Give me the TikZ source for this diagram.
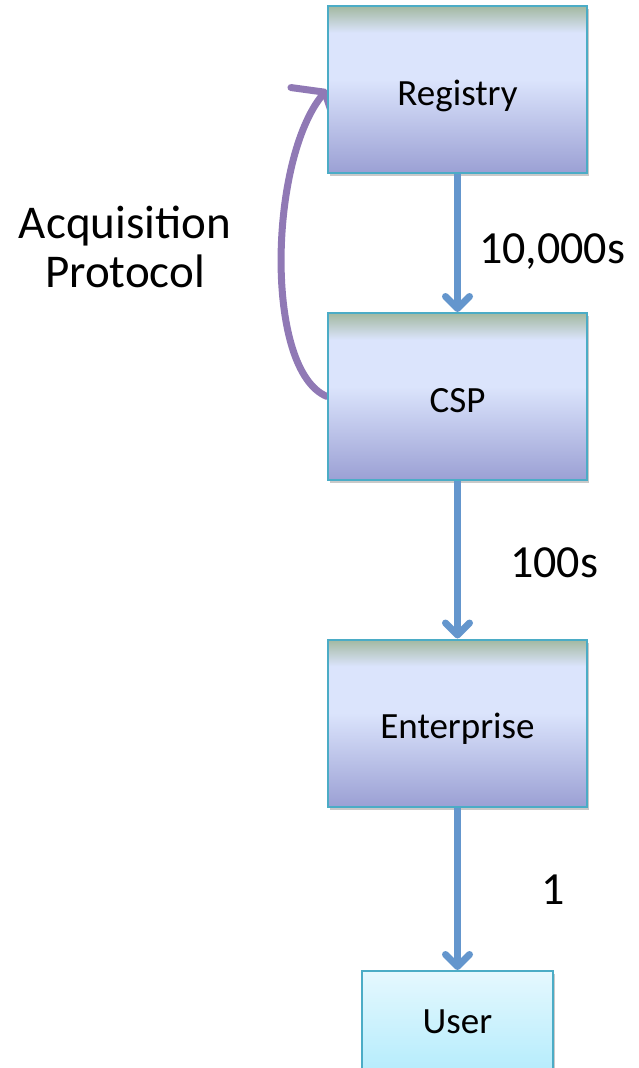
\documentclass[tikz,border=0pt]{standalone}
\usepackage{fontspec}
\setmainfont{Carlito}
\usetikzlibrary{arrows.meta,shadows}
\pgfdeclarelayer{background}
\pgfsetlayers{background,main}

\definecolor{edgecyan}{RGB}{75,172,198}
\definecolor{bandtop}{RGB}{162,184,160}
\definecolor{boxlight}{RGB}{219,228,252}
\definecolor{boxdeep}{RGB}{155,160,212}
\definecolor{usertop}{RGB}{229,248,254}
\definecolor{userlow}{RGB}{180,236,252}
\definecolor{flowblue}{RGB}{100,150,205}
\definecolor{acqpurple}{RGB}{144,121,181}

% stage fill: green-grey band at the top, pale blue body, lavender towards the bottom
\pgfdeclareverticalshading{stagefill}{100bp}{%
  color(0bp)=(boxdeep); color(25bp)=(boxdeep); color(53bp)=(boxlight);
  color(67bp)=(boxlight); color(75bp)=(bandtop); color(100bp)=(bandtop)}

\tikzset{
  boxshadow/.style={drop shadow={shadow xshift=2pt, shadow yshift=-3pt, opacity=0.3, fill=black!70}},
  stage/.style={draw=edgecyan, line width=2pt, minimum width=259pt, minimum height=167pt,
    inner sep=0pt, font=\fontsize{37}{44}\selectfont, text height=31pt, text depth=0pt,
    boxshadow, shade, shading=stagefill, shading angle=0},
  userbox/.style={draw=edgecyan, line width=2pt, minimum width=191pt, minimum height=104pt,
    inner sep=0pt, font=\fontsize{37}{44}\selectfont, text height=20pt, text depth=0pt,
    boxshadow, top color=usertop, bottom color=userlow},
  flow/.style={draw=flowblue, line width=7pt,
    -{Straight Barb[length=12pt, width=24pt, round]}},
  acq/.style={draw=acqpurple, line width=7pt, line cap=round,
    -{Straight Barb[length=18pt, width=58pt, round]}},
  count/.style={font=\fontsize{46}{49}\selectfont, inner sep=0pt},
}

\begin{document}
\begin{tikzpicture}[x=1pt, y=-1pt]
  \path[use as bounding box] (0,0) rectangle (639,1068);
  \clip (0,0) rectangle (639,1068);

  % the four stages of the chain
  \node[stage] (reg) at (457.5,89.5) {Registry};
  \node[stage] (csp) at (457.5,396.5) {CSP};
  \node[stage] (ent) at (457.5,723) {Enterprise};
  \node[userbox] (usr) at (457.5,1023) {User};

  % downward distribution arrows
  \draw[flow] (reg) -- (csp);
  \draw[flow] (csp) -- (ent);
  \draw[flow] (ent) -- (usr);

  % fan-out counts
  \node[count, anchor=base west] (n1) at (479,263) {10,000s};
  \node[count, anchor=base west] (n2) at (510,577) {100s};
  \node[count, anchor=base] (n3) at (553,904) {1};

  % acquisition loop, drawn behind the boxes
  \begin{pgfonlayer}{background}
    \draw[acq] (csp.west) .. controls +(-63,-26) and +(-58,70) .. (reg.west);
  \end{pgfonlayer}
  \node[count, font=\fontsize{47}{49}\selectfont, align=center, anchor=base] (acqlbl)
    at (125,287) {Acquisition\\Protocol};
\end{tikzpicture}
\end{document}
